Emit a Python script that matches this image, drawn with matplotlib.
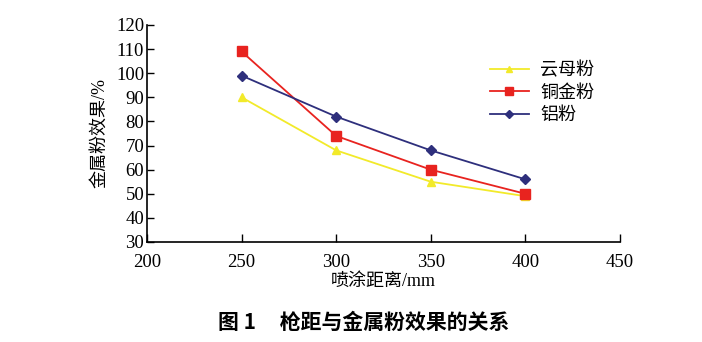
import matplotlib
matplotlib.use("Agg")
import matplotlib.pyplot as plt

plt.rcParams['font.family'] = ['Liberation Serif', 'Noto Sans CJK SC']

distance = [250, 300, 350, 400]
mica = [90, 68, 55, 49]
copper = [109, 74, 60, 50]
aluminium = [99, 82, 68, 56]
series_names = ['云母粉', '铜金粉', '铝粉']
x_ticks = [200, 250, 300, 350, 400, 450]
y_ticks = [30, 40, 50, 60, 70, 80, 90, 100, 110, 120]

fig = plt.figure(figsize=(7.02, 3.42), dpi=100)
ax = fig.add_axes([0.2094, 0.2924, 0.6736, 0.6346])

ax.plot(distance, mica, color='#f2ea2a', marker='^', markersize=6, lw=1.3, label=series_names[0])
ax.plot(distance, copper, color='#e8231f', marker='s', markersize=7.5, lw=1.3, label=series_names[1])
ax.plot(distance, aluminium, color='#2e2f7c', marker='D', markersize=5.5, lw=1.3, label=series_names[2])

ax.set_xlim(200, 450)
ax.set_ylim(30, 120)
ax.set_xticks(x_ticks)
ax.set_yticks(y_ticks)
ax.spines['top'].set_visible(False)
ax.spines['right'].set_visible(False)
ax.spines['left'].set_linewidth(1.2)
ax.spines['bottom'].set_linewidth(1.2)
ax.tick_params(axis='y', direction='in', length=5, labelsize=13.5, pad=2, width=1)
ax.tick_params(axis='x', direction='in', length=6, labelsize=13.5, pad=9, width=1)

ax.set_ylabel('金属粉效果/%', fontsize=13, labelpad=6)
ax.set_xlabel('喷涂距离/mm', fontsize=13, labelpad=1)

leg = ax.legend(loc='upper right', bbox_to_anchor=(0.98, 0.905), frameon=False,
                fontsize=13, handlelength=2.2, labelspacing=0.3, handletextpad=0.6,
                markerscale=0.8)

fig.text(0.518, 0.058, '图 1     枪距与金属粉效果的关系', ha='center', va='center',
         fontsize=15, fontweight='bold', family=['Noto Sans CJK SC'])

fig.savefig('out.png', dpi=100)
